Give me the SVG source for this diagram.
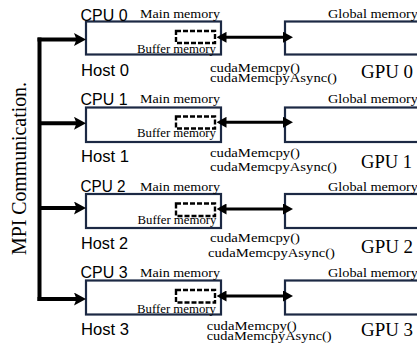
<svg xmlns="http://www.w3.org/2000/svg" width="417" height="347" viewBox="0 0 417 347">
  <style>
    .box { fill: #ffffff; stroke: #1c2944; stroke-width: 2.2; }
    .buf { fill: none; stroke: #000; stroke-width: 2.4; stroke-dasharray: 5 2; }
    .sans { font-family: "Liberation Sans", Arial, sans-serif; font-size: 16px; fill: #000; }
    .serif { font-family: "Liberation Serif", "Times New Roman", serif; fill: #000; }
    .sm { font-size: 12px; }
    .code { font-size: 13px; }
    .gpu { font-size: 19px; }
    .bus { fill: none; stroke: #000; stroke-width: 4; }
    .copy { fill: none; stroke: #000; stroke-width: 3; }
  </style>
  <defs>
    <marker id="busHead" markerUnits="userSpaceOnUse" viewBox="0 0 12 13" markerWidth="12" markerHeight="13" refX="4" refY="6.5" orient="auto">
      <path d="M0,0 L12,6.5 L0,13 L2.5,6.5 z" fill="#000"/>
    </marker>
    <marker id="copyHead" markerUnits="userSpaceOnUse" viewBox="0 0 10 11" markerWidth="10" markerHeight="11" refX="5" refY="5.5" orient="auto-start-reverse">
      <path d="M0,0 L10,5.5 L0,11 z" fill="#000"/>
    </marker>
  </defs>

  <!-- MPI label -->
  <text class="serif" font-size="20" text-anchor="middle" textLength="173" lengthAdjust="spacingAndGlyphs" transform="translate(26,168.5) rotate(-90)">MPI Communication.</text>

  <!-- Host 0 -->
  <g id="host0">
    <rect class="box" x="86" y="21.5" width="135" height="33"/>
    <rect class="buf" x="176" y="31" width="39" height="12"/>
    <text class="sans" x="80.5" y="20.7" textLength="47" lengthAdjust="spacingAndGlyphs">CPU 0</text>
    <text class="serif sm" x="140" y="18.3" textLength="80" lengthAdjust="spacingAndGlyphs">Main memory</text>
    <text class="serif sm" x="137" y="53.3" textLength="79" lengthAdjust="spacingAndGlyphs">Buffer memory</text>
    <text class="sans" x="81" y="76" textLength="48" lengthAdjust="spacingAndGlyphs">Host 0</text>
  </g>
  <g id="gpu0">
    <rect class="box" x="285" y="21.5" width="140" height="33"/>
    <text class="serif sm" x="328" y="18.3" textLength="90" lengthAdjust="spacingAndGlyphs">Global memory</text>
    <text class="serif gpu" x="361" y="78.3" textLength="52" lengthAdjust="spacingAndGlyphs">GPU 0</text>
  </g>

  <!-- Host 1 -->
  <g id="host1">
    <rect class="box" x="86" y="107.5" width="135" height="34.5"/>
    <rect class="buf" x="176" y="116.5" width="39" height="12"/>
    <text class="sans" x="80.5" y="105" textLength="47" lengthAdjust="spacingAndGlyphs">CPU 1</text>
    <text class="serif sm" x="140" y="103.3" textLength="80" lengthAdjust="spacingAndGlyphs">Main memory</text>
    <text class="serif sm" x="137" y="136.7" textLength="79" lengthAdjust="spacingAndGlyphs">Buffer memory</text>
    <text class="sans" x="81" y="162.3" textLength="48" lengthAdjust="spacingAndGlyphs">Host 1</text>
  </g>
  <g id="gpu1">
    <rect class="box" x="285" y="107.5" width="140" height="34.5"/>
    <text class="serif sm" x="328" y="103.3" textLength="90" lengthAdjust="spacingAndGlyphs">Global memory</text>
    <text class="serif gpu" x="361" y="168.3" textLength="51" lengthAdjust="spacingAndGlyphs">GPU 1</text>
  </g>

  <!-- Host 2 -->
  <g id="host2">
    <rect class="box" x="86" y="194" width="135" height="34"/>
    <rect class="buf" x="176" y="203.5" width="39" height="12.5"/>
    <text class="sans" x="80.5" y="192.3" textLength="45" lengthAdjust="spacingAndGlyphs">CPU 2</text>
    <text class="serif sm" x="140" y="191" textLength="80" lengthAdjust="spacingAndGlyphs">Main memory</text>
    <text class="serif sm" x="137.5" y="224.3" textLength="79" lengthAdjust="spacingAndGlyphs">Buffer memory</text>
    <text class="sans" x="81" y="249" textLength="47" lengthAdjust="spacingAndGlyphs">Host 2</text>
  </g>
  <g id="gpu2">
    <rect class="box" x="285" y="194" width="140" height="34"/>
    <text class="serif sm" x="328" y="190.7" textLength="90" lengthAdjust="spacingAndGlyphs">Global memory</text>
    <text class="serif gpu" x="361" y="253.3" textLength="52" lengthAdjust="spacingAndGlyphs">GPU 2</text>
  </g>

  <!-- Host 3 -->
  <g id="host3">
    <rect class="box" x="86" y="280.5" width="135" height="34"/>
    <rect class="buf" x="176" y="290" width="39" height="12.5"/>
    <text class="sans" x="80.5" y="278.3" textLength="47" lengthAdjust="spacingAndGlyphs">CPU 3</text>
    <text class="serif sm" x="140" y="276.7" textLength="80" lengthAdjust="spacingAndGlyphs">Main memory</text>
    <text class="serif sm" x="137" y="313.3" textLength="79" lengthAdjust="spacingAndGlyphs">Buffer memory</text>
    <text class="sans" x="81" y="335" textLength="48" lengthAdjust="spacingAndGlyphs">Host 3</text>
  </g>
  <g id="gpu3">
    <rect class="box" x="285" y="280.5" width="140" height="34"/>
    <text class="serif sm" x="328" y="276.7" textLength="90" lengthAdjust="spacingAndGlyphs">Global memory</text>
    <text class="serif gpu" x="361" y="336" textLength="52" lengthAdjust="spacingAndGlyphs">GPU 3</text>
  </g>

  <!-- Connectors: MPI bus and host/device copies -->
  <g id="connectors">
    <line class="bus" x1="39.5" y1="37.5" x2="39.5" y2="301"/>
    <line class="bus" x1="37.5" y1="39.5" x2="78" y2="39.5" marker-end="url(#busHead)"/>
    <line class="bus" x1="39.5" y1="123.3" x2="78" y2="123.3" marker-end="url(#busHead)"/>
    <line class="bus" x1="39.5" y1="208" x2="78" y2="208" marker-end="url(#busHead)"/>
    <line class="bus" x1="37.5" y1="299" x2="78" y2="299" marker-end="url(#busHead)"/>

    <line class="copy" x1="221.5" y1="37.3" x2="288" y2="37.3" marker-start="url(#copyHead)" marker-end="url(#copyHead)"/>
    <line class="copy" x1="221.5" y1="122.3" x2="288" y2="122.3" marker-start="url(#copyHead)" marker-end="url(#copyHead)"/>
    <line class="copy" x1="221.5" y1="209" x2="288" y2="209" marker-start="url(#copyHead)" marker-end="url(#copyHead)"/>
    <line class="copy" x1="221.5" y1="296" x2="288" y2="296" marker-start="url(#copyHead)" marker-end="url(#copyHead)"/>
  </g>

  <!-- Copy call labels -->
  <g id="copy-labels">
    <text class="serif code" x="210" y="71.7" textLength="90" lengthAdjust="spacingAndGlyphs">cudaMemcpy()</text>
    <text class="serif code" x="210" y="81.7" textLength="127" lengthAdjust="spacingAndGlyphs">cudaMemcpyAsync()</text>
    <text class="serif code" x="210" y="156.7" textLength="90" lengthAdjust="spacingAndGlyphs">cudaMemcpy()</text>
    <text class="serif code" x="210" y="171" textLength="127" lengthAdjust="spacingAndGlyphs">cudaMemcpyAsync()</text>
    <text class="serif code" x="210" y="241.7" textLength="90" lengthAdjust="spacingAndGlyphs">cudaMemcpy()</text>
    <text class="serif code" x="208" y="256.7" textLength="127" lengthAdjust="spacingAndGlyphs">cudaMemcpyAsync()</text>
    <text class="serif code" x="206.7" y="329.5" textLength="90" lengthAdjust="spacingAndGlyphs">cudaMemcpy()</text>
    <text class="serif code" x="206.7" y="340" textLength="125" lengthAdjust="spacingAndGlyphs">cudaMemcpyAsync()</text>
  </g>
</svg>
